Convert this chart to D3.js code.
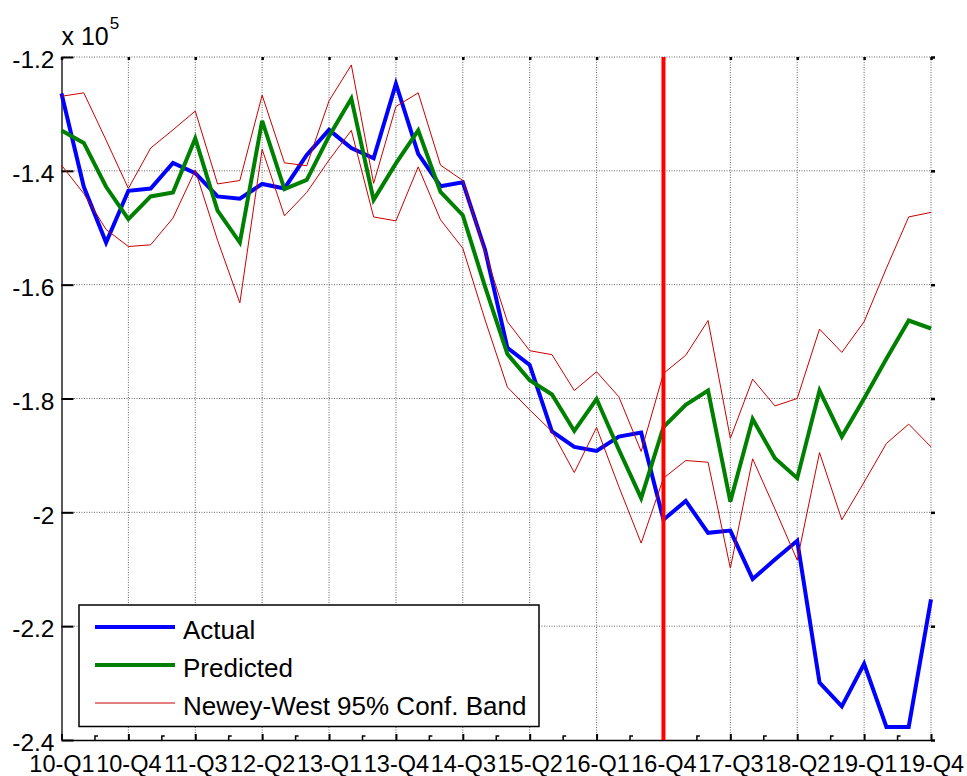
<!DOCTYPE html>
<html>
<head>
<meta charset="utf-8">
<script src="https://cdn.jsdelivr.net/npm/d3@7"></script>
<style>
  html, body { margin: 0; padding: 0; background: #fff; }
  svg { display: block; font-family: Arial, "Liberation Sans", Helvetica, sans-serif; }
</style>
</head>
<body>
<div id="chart"></div>
<script>
// Quarterly series, values in units of 1e5 (see the "x 10^5" label)
const QUARTERS = [];
for (let yr = 10; yr <= 19; yr++) {
    for (let q = 1; q <= 4; q++) QUARTERS.push(`${yr}-Q${q}`);
}

const X_TICK_LABELS = ['10-Q1', '10-Q4', '11-Q3', '12-Q2', '13-Q1', '13-Q4', '14-Q3',
    '15-Q2', '16-Q1', '16-Q4', '17-Q3', '18-Q2', '19-Q1', '19-Q4'];
const Y_TICKS = [-1.2, -1.4, -1.6, -1.8, -2.0, -2.2, -2.4];

const ACTUAL = [-1.264, -1.428, -1.526, -1.435, -1.431, -1.386, -1.404, -1.445, -1.449, -1.423,
    -1.431, -1.372, -1.328, -1.360, -1.378, -1.247, -1.370, -1.427, -1.420, -1.539,
    -1.711, -1.741, -1.858, -1.885, -1.892, -1.867, -1.860, -2.013, -1.980, -2.036,
    -2.032, -2.117, -2.083, -2.050, -2.299, -2.341, -2.266, -2.377, -2.377, -2.153];

const PREDICTED = [-1.329, -1.351, -1.428, -1.485, -1.445, -1.438, -1.343, -1.470, -1.526, -1.312,
    -1.432, -1.416, -1.339, -1.273, -1.451, -1.387, -1.329, -1.437, -1.478, -1.604,
    -1.722, -1.768, -1.793, -1.857, -1.801, -1.890, -1.975, -1.850, -1.811, -1.786,
    -1.981, -1.836, -1.905, -1.940, -1.786, -1.867, -1.800, -1.730, -1.663, -1.677];

const BAND_UPPER = [-1.269, -1.263, -1.346, -1.431, -1.360, -1.328, -1.295, -1.423, -1.417, -1.267,
    -1.386, -1.391, -1.277, -1.214, -1.422, -1.287, -1.263, -1.390, -1.417, -1.543,
    -1.665, -1.716, -1.723, -1.786, -1.753, -1.797, -1.893, -1.756, -1.724, -1.663,
    -1.870, -1.766, -1.813, -1.800, -1.678, -1.719, -1.665, -1.571, -1.481, -1.473];

const BAND_LOWER = [-1.390, -1.440, -1.503, -1.533, -1.530, -1.483, -1.399, -1.522, -1.632, -1.362,
    -1.479, -1.438, -1.381, -1.329, -1.481, -1.488, -1.393, -1.486, -1.536, -1.662,
    -1.780, -1.820, -1.858, -1.930, -1.851, -1.955, -2.054, -1.940, -1.909, -1.912,
    -2.098, -1.906, -1.994, -2.084, -1.895, -2.013, -1.947, -1.879, -1.845, -1.885];

const FORECAST_START = '16-Q4';

const LEGEND = [
    { name: 'Actual', color: '#0000ff', width: 4 },
    { name: 'Predicted', color: '#008000', width: 4 },
    { name: 'Newey-West 95% Conf. Band', color: '#cc0000', width: 1 }
];

const width = 967, height = 776;
const margin = { top: 57, right: 36, bottom: 36, left: 61.5 };

const svg = d3.select('#chart')
    .append('svg')
    .attr('width', width)
    .attr('height', height)
    .attr('viewBox', [0, 0, width, height])
    .style('background', '#fff');

const x = d3.scalePoint()
    .domain(QUARTERS)
    .range([margin.left, width - margin.right]);

const y = d3.scaleLinear()
    .domain([-2.4, -1.2])
    .range([height - margin.bottom, margin.top]);

const x0 = x.range()[0], x1 = x.range()[1];
const y0 = y.range()[0], y1 = y.range()[1];

// dotted grid (also forms the top and right edges)
const grid = svg.append('g')
    .attr('stroke', '#666')
    .attr('stroke-width', 1)
    .attr('stroke-dasharray', '1,1.5');

grid.selectAll('.vgrid')
    .data(X_TICK_LABELS.slice(1))
    .join('line')
    .attr('x1', d => x(d)).attr('x2', d => x(d))
    .attr('y1', y1).attr('y2', y0);

grid.selectAll('.hgrid')
    .data(Y_TICKS.filter(d => d !== -2.4))
    .join('line')
    .attr('x1', x0).attr('x2', x1)
    .attr('y1', d => y(d)).attr('y2', d => y(d));

// axes
const fmt = d => String(+d.toFixed(1));

const yAxis = svg.append('g')
    .attr('transform', `translate(${x0},0)`)
    .call(d3.axisLeft(y)
        .tickValues(Y_TICKS)
        .tickSizeInner(-12)
        .tickSizeOuter(0)
        .tickPadding(7)
        .tickFormat(fmt));

yAxis.select('.domain').attr('stroke', '#222').attr('stroke-width', 1.5);
yAxis.selectAll('.tick line').attr('stroke', '#000').attr('stroke-width', 2);
yAxis.selectAll('.tick text')
    .attr('fill', '#000')
    .attr('font-size', '24.5px')
    .attr('font-family', 'Arial, "Liberation Sans", sans-serif')
    .attr('dy', '0.44em');

const xAxis = svg.append('g')
    .attr('transform', `translate(0,${y0})`)
    .call(d3.axisBottom(x)
        .tickValues(X_TICK_LABELS)
        .tickSizeInner(-6)
        .tickSizeOuter(0)
        .tickPadding(15));

xAxis.select('.domain').attr('stroke', '#000').attr('stroke-width', 1.5);
xAxis.selectAll('.tick line').attr('stroke', '#000').attr('stroke-width', 2);
xAxis.selectAll('.tick text')
    .attr('fill', '#000')
    .attr('font-size', '23.5px')
    .attr('font-family', 'Arial, "Liberation Sans", sans-serif');

// minor ticks halfway between labelled quarters
const minorX = d3.pairs(X_TICK_LABELS).map(([a, b]) => (x(a) + x(b)) / 2);
svg.append('g')
    .selectAll('path')
    .data(minorX)
    .join('path')
    .attr('d', d => `M${d},${y0} V${y0 - 4} H${d + 3}`)
    .attr('fill', 'none')
    .attr('stroke', '#000')
    .attr('stroke-width', 1.5);

// small marks on the top and right edges
const topAxis = svg.append('g')
    .attr('transform', `translate(0,${y1})`)
    .call(d3.axisTop(x).tickValues(X_TICK_LABELS).tickSizeInner(-3).tickSizeOuter(0).tickFormat(''));
topAxis.select('.domain').remove();
topAxis.selectAll('.tick line').attr('stroke', '#000').attr('stroke-width', 2.5);

const rightAxis = svg.append('g')
    .attr('transform', `translate(${x1},0)`)
    .call(d3.axisRight(y).tickValues(Y_TICKS).tickSizeInner(4).tickSizeOuter(0).tickFormat(''));
rightAxis.select('.domain').remove();
rightAxis.selectAll('.tick line').attr('stroke', '#000').attr('stroke-width', 2.5);

// exponent label
const expLabel = svg.append('text')
    .attr('x', x0)
    .attr('y', 45)
    .attr('font-size', '25px')
    .attr('fill', '#000');
expLabel.append('tspan').text('x 10');
expLabel.append('tspan')
    .attr('dy', -16)
    .attr('dx', 1)
    .attr('font-size', '17px')
    .text('5');

// series
const line = d3.line()
    .x((d, i) => x(QUARTERS[i]))
    .y(d => y(d));

const plot = svg.append('g').attr('fill', 'none');

plot.append('path')
    .datum(ACTUAL)
    .attr('d', line)
    .attr('stroke', LEGEND[0].color)
    .attr('stroke-width', LEGEND[0].width);

plot.append('path')
    .datum(PREDICTED)
    .attr('d', line)
    .attr('stroke', LEGEND[1].color)
    .attr('stroke-width', LEGEND[1].width);

[BAND_UPPER, BAND_LOWER].forEach(band => {
    plot.append('path')
        .datum(band)
        .attr('d', line)
        .attr('stroke', LEGEND[2].color)
        .attr('stroke-width', LEGEND[2].width);
});

// forecast start marker
svg.append('line')
    .attr('x1', x(FORECAST_START)).attr('x2', x(FORECAST_START))
    .attr('y1', y1).attr('y2', y0)
    .attr('stroke', '#ff0000')
    .attr('stroke-width', 4);

// legend
const legend = svg.append('g').attr('transform', 'translate(79,605)');

legend.append('rect')
    .attr('width', 460)
    .attr('height', 121.5)
    .attr('fill', '#fff')
    .attr('stroke', '#000')
    .attr('stroke-width', 1.5);

const item = legend.selectAll('.item')
    .data(LEGEND)
    .join('g')
    .attr('transform', (d, i) => `translate(0,${22 + i * 38})`);

item.append('line')
    .attr('x1', 16).attr('x2', 96)
    .attr('stroke', d => d.color)
    .attr('stroke-width', d => d.width);

item.append('text')
    .attr('x', 104)
    .attr('y', 12)
    .attr('font-size', '26px')
    .attr('fill', '#000')
    .text(d => d.name);
</script>
</body>
</html>
